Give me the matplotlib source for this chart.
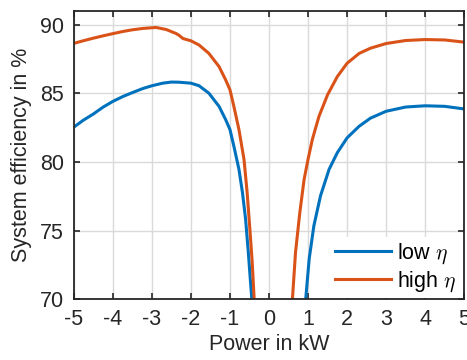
import matplotlib
matplotlib.use('Agg')
import matplotlib.pyplot as plt

plt.rcParams['font.family'] = ['Liberation Sans', 'DejaVu Sans']
plt.rcParams['mathtext.fontset'] = 'cm'
plt.rcParams['axes.unicode_minus'] = False

# low eta, discharging side (negative power)
low_neg_x = [-5, -4.76, -4.5, -4.25, -4, -3.74, -3.5, -3.23, -3, -2.72, -2.5, -2.31, -2.0,
             -1.79, -1.54, -1.28, -1.11, -1.0, -0.9, -0.77, -0.68, -0.6, -0.53, -0.48,
             -0.44, -0.43]
low_neg_y = [82.54, 83.04, 83.5, 84.0, 84.42, 84.78, 85.06, 85.36, 85.56, 85.75, 85.83, 85.82,
             85.75, 85.56, 85.02, 84.06, 83.09, 82.37, 81.16, 79.47, 77.78, 75.85, 73.43,
             71.5, 70.0, 69.0]
# low eta, charging side
low_pos_x = [0.93, 0.94, 1.03, 1.15, 1.32, 1.54, 1.75, 2.0, 2.31, 2.6, 3.0, 3.5, 4.0, 4.5, 5.0]
low_pos_y = [69.0, 70.0, 72.95, 75.36, 77.54, 79.47, 80.68, 81.76, 82.61, 83.2, 83.7, 84.01,
             84.1, 84.06, 83.87]

# high eta
high_neg_x = [-5, -4.76, -4.5, -4.25, -4, -3.74, -3.5, -3.23, -3, -2.89, -2.63, -2.38, -2.31,
              -2.2, -2.1, -2.0, -1.79, -1.54, -1.28, -1.11, -1.0, -0.9, -0.77, -0.64, -0.56,
              -0.49, -0.43, -0.38, -0.37]
high_neg_y = [88.65, 88.84, 89.03, 89.2, 89.36, 89.52, 89.64, 89.74, 89.79, 89.81, 89.66,
              89.37, 89.25, 89.0, 88.92, 88.84, 88.53, 87.92, 86.96, 85.99, 85.27, 84.06,
              82.37, 80.19, 77.78, 75.12, 72.71, 70.0, 69.0]
high_pos_x = [0.59, 0.60, 0.68, 0.79, 0.90, 1.0, 1.11, 1.28, 1.50, 1.75, 2.0, 2.31, 2.6, 3.0,
              3.5, 4.0, 4.5, 5.0]
high_pos_y = [69.0, 70.0, 73.43, 76.33, 78.74, 80.19, 81.64, 83.33, 84.9, 86.23, 87.2, 87.92,
              88.3, 88.64, 88.86, 88.93, 88.9, 88.74]

x_ticks = [-5, -4, -3, -2, -1, 0, 1, 2, 3, 4, 5]
y_ticks = [70, 75, 80, 85, 90]

blue = '#0072BD'
orange = '#D95319'
dark = '#262626'
fs = 15.5

fig = plt.figure(figsize=(4.67, 3.6), dpi=100)
ax = fig.add_axes([0.158, 0.169, 0.836, 0.8])

ax.plot(low_neg_x, low_neg_y, color=blue, lw=2.2, label=r'low $\eta$')
ax.plot(low_pos_x, low_pos_y, color=blue, lw=2.2)
ax.plot(high_neg_x, high_neg_y, color=orange, lw=2.2, label=r'high $\eta$')
ax.plot(high_pos_x, high_pos_y, color=orange, lw=2.2)

ax.set_xlim(-5, 5)
ax.set_ylim(70, 91)
ax.set_xticks(x_ticks)
ax.set_yticks(y_ticks)
ax.grid(True, color='#dadada', lw=1)
ax.set_axisbelow(True)

for s in ax.spines.values():
    s.set_color(dark)
    s.set_linewidth(1.3)
ax.tick_params(direction='in', top=True, right=True, length=4, width=1.2,
               labelsize=fs, colors=dark)
ax.tick_params(axis='x', pad=7)
ax.tick_params(axis='y', pad=7)

ax.set_xlabel('Power in kW', fontsize=fs, color=dark, labelpad=3)
ax.set_ylabel('System efficiency in %', fontsize=fs, color=dark, labelpad=6)

leg = ax.legend(loc='lower right', bbox_to_anchor=(0.992, 0.003), fontsize=fs,
                frameon=True, handlelength=2.6, handletextpad=0.3, borderpad=0.2,
                borderaxespad=0.0, labelspacing=0.15)
leg.get_frame().set_edgecolor('none')
leg.get_frame().set_facecolor('white')
leg.get_frame().set_alpha(1)

fig.savefig('out.png', dpi=100)
